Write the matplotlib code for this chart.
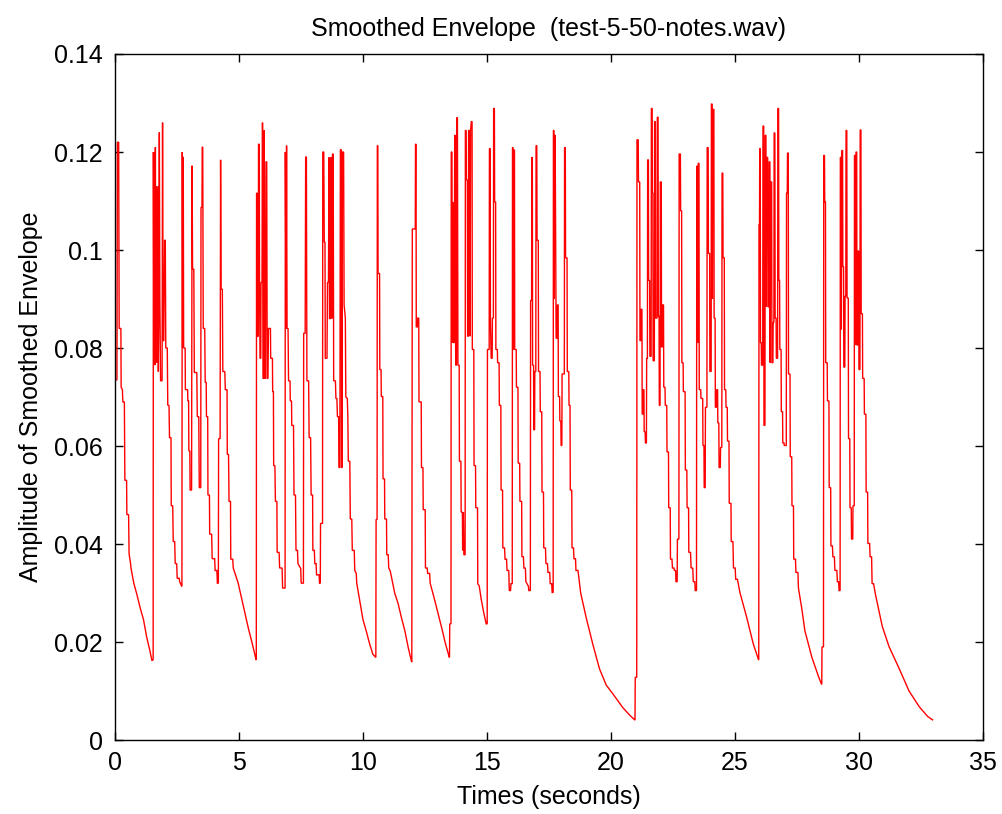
import matplotlib
matplotlib.use("Agg")
import matplotlib.pyplot as plt

# ---- data: (time in s, amplitude) vertices per note group ----
group_01 = [(0.0, 0.0), (0.02, 0.0735), (0.09, 0.0735), (0.11, 0.122), (0.16, 0.122), (0.18, 0.084),
            (0.25, 0.084), (0.26, 0.072), (0.31, 0.0715), (0.33, 0.069), (0.39, 0.069), (0.41, 0.053),
            (0.48, 0.053), (0.49, 0.046), (0.56, 0.046), (0.58, 0.038), (0.64, 0.036), (0.66, 0.035),
            (0.77, 0.032), (0.90, 0.0296), (1.03, 0.0269), (1.16, 0.0246), (1.29, 0.021), (1.42, 0.0182),
            (1.50, 0.0162)]
group_02 = [(1.55, 0.0164), (1.56, 0.120), (1.58, 0.077), (1.60, 0.120), (1.62, 0.0765), (1.64, 0.121),
            (1.66, 0.077), (1.68, 0.113), (1.70, 0.077), (1.74, 0.113), (1.76, 0.0752), (1.78, 0.090),
            (1.80, 0.124), (1.82, 0.0902), (1.85, 0.0733), (1.91, 0.0733), (1.93, 0.126), (1.95, 0.0815),
            (1.98, 0.0815), (2.01, 0.102), (2.04, 0.102), (2.06, 0.080), (2.12, 0.080), (2.14, 0.0683),
            (2.19, 0.0683), (2.21, 0.0617), (2.27, 0.0617), (2.28, 0.0478), (2.34, 0.0478), (2.36, 0.0405),
            (2.42, 0.0405), (2.44, 0.036), (2.50, 0.036), (2.52, 0.033), (2.60, 0.033), (2.62, 0.0323),
            (2.70, 0.0314)]
group_03 = [(2.71, 0.0314), (2.725, 0.120), (2.74, 0.080), (2.765, 0.119), (2.78, 0.080), (2.84, 0.080),
            (2.85, 0.0715), (2.94, 0.0715), (2.95, 0.0692), (2.98, 0.0692), (2.99, 0.059), (3.03, 0.059),
            (3.04, 0.051), (3.10, 0.051), (3.12, 0.1172), (3.14, 0.0961), (3.19, 0.0961), (3.21, 0.075),
            (3.31, 0.075), (3.33, 0.066), (3.39, 0.066), (3.41, 0.0515), (3.47, 0.0515), (3.48, 0.1087),
            (3.52, 0.1087), (3.53, 0.121), (3.55, 0.121), (3.57, 0.084), (3.63, 0.084), (3.65, 0.073),
            (3.69, 0.073), (3.70, 0.066), (3.75, 0.066), (3.76, 0.050), (3.82, 0.050), (3.83, 0.042),
            (3.91, 0.042), (3.93, 0.037), (4.03, 0.037), (4.05, 0.0346), (4.12, 0.0346), (4.14, 0.032),
            (4.18, 0.032)]
group_04 = [(4.19, 0.0615), (4.25, 0.0615), (4.27, 0.1184), (4.29, 0.092), (4.34, 0.092), (4.36, 0.0752),
            (4.44, 0.0752), (4.46, 0.0715), (4.53, 0.0715), (4.54, 0.0583), (4.59, 0.0583), (4.61, 0.0487),
            (4.67, 0.0487), (4.68, 0.0369), (4.76, 0.0369), (4.78, 0.0351), (4.98, 0.032), (5.18, 0.0275),
            (5.38, 0.023), (5.58, 0.019), (5.70, 0.0164)]
group_05 = [(5.71, 0.0164), (5.72, 0.1116), (5.75, 0.1116), (5.76, 0.0824), (5.79, 0.0824), (5.80, 0.1216),
            (5.83, 0.1216), (5.84, 0.0934), (5.86, 0.0779), (5.89, 0.0779), (5.90, 0.0934), (5.94, 0.0934),
            (5.96, 0.126), (5.98, 0.0738), (6.01, 0.0738), (6.03, 0.1244), (6.05, 0.0738), (6.08, 0.0738),
            (6.10, 0.118), (6.13, 0.118), (6.15, 0.0738), (6.18, 0.0738), (6.20, 0.084), (6.28, 0.084),
            (6.29, 0.0779), (6.36, 0.0779), (6.37, 0.0711), (6.40, 0.0711), (6.41, 0.056), (6.46, 0.056),
            (6.48, 0.0487), (6.54, 0.0487), (6.55, 0.0383), (6.63, 0.0383), (6.65, 0.0351), (6.75, 0.0351),
            (6.77, 0.031), (6.87, 0.031)]
group_06 = [(6.88, 0.120), (6.91, 0.084), (6.93, 0.1213), (6.95, 0.084), (6.99, 0.084), (7.01, 0.0733),
            (7.07, 0.0733), (7.08, 0.0692), (7.13, 0.0692), (7.14, 0.0642), (7.21, 0.0642), (7.23, 0.050),
            (7.29, 0.050), (7.31, 0.0387), (7.37, 0.0387), (7.39, 0.036), (7.50, 0.035), (7.52, 0.032),
            (7.61, 0.032)]
group_07 = [(7.62, 0.083), (7.68, 0.083), (7.70, 0.119), (7.73, 0.119), (7.75, 0.0733), (7.82, 0.0733),
            (7.84, 0.0617), (7.90, 0.0617), (7.92, 0.050), (7.98, 0.050), (7.99, 0.0387), (8.05, 0.0387),
            (8.07, 0.036), (8.12, 0.036), (8.14, 0.0337), (8.24, 0.0337), (8.26, 0.032), (8.29, 0.032)]
group_08 = [(8.30, 0.0442), (8.38, 0.0442), (8.39, 0.120), (8.43, 0.120), (8.45, 0.1016), (8.48, 0.1016),
            (8.49, 0.0779), (8.56, 0.0779), (8.58, 0.0934), (8.62, 0.0934), (8.64, 0.1189), (8.66, 0.086),
            (8.70, 0.086), (8.72, 0.1189), (8.74, 0.0861), (8.77, 0.0861), (8.78, 0.1196), (8.81, 0.1196),
            (8.83, 0.0733), (8.90, 0.0733), (8.92, 0.0697), (8.96, 0.0697), (8.98, 0.066), (9.03, 0.066),
            (9.04, 0.0556), (9.08, 0.0556), (9.10, 0.1205), (9.13, 0.1205), (9.15, 0.0556), (9.17, 0.0556),
            (9.18, 0.120), (9.23, 0.120), (9.25, 0.0888), (9.30, 0.0861), (9.32, 0.070), (9.38, 0.0697),
            (9.40, 0.066), (9.42, 0.0569), (9.48, 0.0569), (9.50, 0.0451), (9.56, 0.0451), (9.58, 0.0387),
            (9.66, 0.0387), (9.68, 0.0346), (9.74, 0.034), (9.76, 0.032), (9.87, 0.0287), (10.01, 0.0246),
            (10.14, 0.0223), (10.28, 0.0196), (10.41, 0.0175), (10.52, 0.0169)]
group_09 = [(10.53, 0.0169), (10.54, 0.045), (10.58, 0.045), (10.59, 0.1213), (10.61, 0.1213), (10.62, 0.0952),
            (10.68, 0.0952), (10.69, 0.0756), (10.74, 0.0756), (10.75, 0.0701), (10.81, 0.0701), (10.82, 0.0533),
            (10.88, 0.0533), (10.89, 0.0451), (10.96, 0.0451), (10.97, 0.0378), (11.03, 0.0378), (11.05, 0.0351),
            (11.11, 0.0345), (11.20, 0.0323), (11.29, 0.030), (11.43, 0.0278), (11.56, 0.025), (11.70, 0.0223),
            (11.83, 0.019), (11.97, 0.016)]
group_10 = [(11.98, 0.0159), (12.00, 0.1043), (12.12, 0.1043), (12.13, 0.1216), (12.15, 0.1216), (12.16, 0.0843),
            (12.20, 0.0843), (12.22, 0.0861), (12.26, 0.0861), (12.27, 0.069), (12.36, 0.069), (12.37, 0.0556),
            (12.43, 0.0556), (12.44, 0.047), (12.52, 0.047), (12.53, 0.0351), (12.60, 0.0351), (12.62, 0.034),
            (12.70, 0.034), (12.72, 0.032), (12.88, 0.029), (13.03, 0.026), (13.18, 0.023), (13.33, 0.0198),
            (13.49, 0.0169)]
group_11 = [(13.50, 0.0169), (13.51, 0.0237), (13.56, 0.0237), (13.57, 0.120), (13.60, 0.120), (13.61, 0.0811),
            (13.64, 0.1098), (13.66, 0.0811), (13.69, 0.0811), (13.71, 0.1234), (13.73, 0.1234), (13.75, 0.0765),
            (13.78, 0.0765), (13.79, 0.127), (13.82, 0.127), (13.84, 0.0765), (13.89, 0.0765), (13.90, 0.0569),
            (13.96, 0.0569), (13.97, 0.0465), (14.02, 0.0465), (14.03, 0.0387), (14.06, 0.0465), (14.08, 0.0378),
            (14.13, 0.0378), (14.14, 0.1244), (14.17, 0.1244), (14.18, 0.1143), (14.22, 0.1143), (14.23, 0.0824),
            (14.26, 0.0824), (14.27, 0.1244), (14.31, 0.1244), (14.33, 0.0824), (14.35, 0.1244), (14.38, 0.1262),
            (14.41, 0.1262), (14.42, 0.0797), (14.48, 0.0797), (14.49, 0.056), (14.55, 0.056), (14.56, 0.0474),
            (14.63, 0.0474), (14.64, 0.0319), (14.70, 0.0314), (14.78, 0.0287), (14.88, 0.026), (14.98, 0.0237),
            (15.01, 0.0237)]
group_12 = [(15.02, 0.0237), (15.03, 0.0797), (15.10, 0.0797), (15.11, 0.1207), (15.14, 0.1207), (15.15, 0.0861),
            (15.18, 0.0779), (15.22, 0.0779), (15.23, 0.0861), (15.27, 0.0861), (15.28, 0.1289), (15.31, 0.1289),
            (15.32, 0.1098), (15.36, 0.1098), (15.37, 0.0797), (15.43, 0.0797), (15.44, 0.077), (15.50, 0.077),
            (15.51, 0.0683), (15.57, 0.0683), (15.58, 0.051), (15.64, 0.051), (15.65, 0.0392), (15.72, 0.0392),
            (15.74, 0.0369), (15.80, 0.0369), (15.82, 0.0346), (15.89, 0.0346), (15.91, 0.0305), (15.96, 0.0305),
            (15.98, 0.0319), (16.03, 0.0319), (16.04, 0.1209), (16.06, 0.1209), (16.07, 0.0797), (16.09, 0.1204),
            (16.12, 0.1204), (16.13, 0.0797), (16.19, 0.0797), (16.20, 0.072), (16.26, 0.072), (16.27, 0.0565),
            (16.33, 0.0565), (16.34, 0.0487), (16.41, 0.0487), (16.42, 0.0374), (16.48, 0.0374), (16.50, 0.0351),
            (16.56, 0.0351), (16.58, 0.0323), (16.68, 0.0314), (16.70, 0.0305), (16.76, 0.0305)]
group_13 = [(16.77, 0.0897), (16.81, 0.0897), (16.82, 0.1189), (16.84, 0.1189), (16.85, 0.0765), (16.89, 0.0765),
            (16.90, 0.0633), (16.93, 0.0633), (16.94, 0.0752), (16.98, 0.0752), (16.99, 0.1213), (17.02, 0.1213),
            (17.03, 0.102), (17.08, 0.102), (17.09, 0.0752), (17.15, 0.0752), (17.16, 0.067), (17.22, 0.067),
            (17.23, 0.0506), (17.29, 0.0506), (17.30, 0.0392), (17.37, 0.0392), (17.39, 0.036), (17.45, 0.036),
            (17.47, 0.0342), (17.54, 0.0342), (17.56, 0.0319), (17.62, 0.0319), (17.64, 0.0301), (17.67, 0.0301)]
group_14 = [(17.68, 0.0301), (17.69, 0.1244), (17.71, 0.1244), (17.72, 0.090), (17.74, 0.1234), (17.76, 0.1234),
            (17.80, 0.082),
            (17.84, 0.082), (17.85, 0.0888), (17.88, 0.0888), (17.89, 0.0701), (17.94, 0.0701), (17.95, 0.0651),
            (17.99, 0.0651), (18.00, 0.0601), (18.03, 0.0601), (18.04, 0.0747), (18.13, 0.0747), (18.14, 0.1209),
            (18.17, 0.1209), (18.18, 0.0984), (18.24, 0.0984), (18.25, 0.0752), (18.31, 0.0752), (18.32, 0.0683),
            (18.36, 0.0683), (18.37, 0.051), (18.43, 0.051), (18.44, 0.0392), (18.50, 0.0392), (18.52, 0.037),
            (18.58, 0.037), (18.60, 0.0346), (18.68, 0.0346), (18.79, 0.030), (19.01, 0.025), (19.28, 0.0195),
            (19.55, 0.0145), (19.82, 0.0112), (20.09, 0.0094), (20.49, 0.0066), (20.78, 0.0050), (20.97, 0.0041)]
group_15 = [(20.98, 0.0041), (20.99, 0.0128), (21.05, 0.0128), (21.06, 0.1225), (21.11, 0.1225), (21.12, 0.1139),
            (21.17, 0.1139), (21.18, 0.0815), (21.21, 0.0815), (21.22, 0.0879), (21.26, 0.0879), (21.27, 0.0665),
            (21.30, 0.0665), (21.31, 0.0715), (21.34, 0.0715), (21.35, 0.0629), (21.39, 0.0629), (21.40, 0.0606),
            (21.44, 0.0606), (21.45, 0.0779), (21.48, 0.0779), (21.49, 0.1184), (21.52, 0.1184), (21.53, 0.0938),
            (21.57, 0.0938), (21.58, 0.0783), (21.63, 0.0783), (21.64, 0.1289), (21.67, 0.1289), (21.68, 0.1116),
            (21.70, 0.1116), (21.71, 0.0774), (21.76, 0.0774), (21.77, 0.1262), (21.80, 0.1262), (21.81, 0.0861),
            (21.87, 0.0861), (21.88, 0.1271), (21.91, 0.1271), (21.92, 0.0865), (21.95, 0.0865), (21.96, 0.0683),
            (21.99, 0.0683), (22.00, 0.1139), (22.04, 0.1139), (22.05, 0.0802), (22.08, 0.0802), (22.09, 0.0888),
            (22.13, 0.0888), (22.14, 0.072), (22.19, 0.072), (22.20, 0.0683), (22.26, 0.0683), (22.27, 0.0588),
            (22.33, 0.0588), (22.34, 0.0474), (22.40, 0.0474), (22.41, 0.0369), (22.47, 0.0369), (22.49, 0.0351),
            (22.55, 0.0351), (22.57, 0.0346), (22.62, 0.0346), (22.63, 0.0323), (22.68, 0.0323), (22.69, 0.041),
            (22.74, 0.041)]
group_16 = [(22.75, 0.041), (22.76, 0.1196), (22.81, 0.1196), (22.82, 0.108), (22.86, 0.108), (22.87, 0.077),
            (22.92, 0.077), (22.93, 0.0711), (23.00, 0.0711), (23.01, 0.0551), (23.07, 0.0551), (23.08, 0.0474),
            (23.14, 0.0474), (23.15, 0.0383), (23.22, 0.0383), (23.24, 0.0351), (23.31, 0.0351), (23.33, 0.0323),
            (23.39, 0.0323), (23.41, 0.0305), (23.46, 0.0305), (23.47, 0.1171), (23.50, 0.1171), (23.51, 0.0811),
            (23.53, 0.1177), (23.56, 0.1177), (23.57, 0.0715), (23.63, 0.0715), (23.64, 0.0697), (23.71, 0.0697),
            (23.72, 0.0601), (23.76, 0.0601), (23.77, 0.0515), (23.81, 0.0515), (23.82, 0.0679), (23.88, 0.0679),
            (23.89, 0.1209), (23.93, 0.1209), (23.94, 0.0993), (23.99, 0.0993), (24.00, 0.0752), (24.05, 0.0752),
            (24.06, 0.1298), (24.09, 0.1298), (24.10, 0.090), (24.12, 0.1287), (24.16, 0.1287), (24.17, 0.0861),
            (24.21, 0.0861), (24.22, 0.0679), (24.26, 0.0679), (24.27, 0.0715), (24.31, 0.0715), (24.32, 0.0647),
            (24.36, 0.0647), (24.37, 0.0556), (24.42, 0.0556), (24.43, 0.0597), (24.48, 0.0597), (24.49, 0.1157),
            (24.52, 0.1157), (24.53, 0.0984), (24.58, 0.0984), (24.59, 0.0715), (24.64, 0.0715), (24.65, 0.0679),
            (24.70, 0.0679), (24.71, 0.061), (24.77, 0.061), (24.78, 0.0483), (24.85, 0.0483), (24.86, 0.0405),
            (24.93, 0.0405), (24.95, 0.0351), (25.02, 0.0351), (25.04, 0.0328), (25.11, 0.0328), (25.21, 0.0301),
            (25.48, 0.0251), (25.75, 0.0196), (25.96, 0.0164)]
group_17 = [(25.97, 0.0164), (25.98, 0.1052), (26.00, 0.1052), (26.01, 0.1207), (26.03, 0.1207), (26.04, 0.0811),
            (26.07, 0.0811), (26.08, 0.0765), (26.13, 0.0765), (26.14, 0.1253), (26.17, 0.1253), (26.18, 0.0642),
            (26.22, 0.0642), (26.23, 0.1234), (26.26, 0.1234), (26.27, 0.0884), (26.29, 0.1189), (26.33, 0.1189),
            (26.34, 0.0884), (26.38, 0.0884), (26.39, 0.118), (26.42, 0.118), (26.43, 0.077), (26.45, 0.1139),
            (26.49, 0.1139), (26.50, 0.077), (26.54, 0.077), (26.55, 0.0852), (26.58, 0.0852), (26.59, 0.1239),
            (26.62, 0.1239), (26.63, 0.0861), (26.67, 0.0861), (26.68, 0.0779), (26.73, 0.0779), (26.74, 0.1289),
            (26.77, 0.1289), (26.78, 0.0938), (26.81, 0.0938), (26.82, 0.0797), (26.87, 0.0797), (26.88, 0.067),
            (26.93, 0.067), (26.94, 0.0606), (26.99, 0.0606), (27.00, 0.0601), (27.08, 0.0601), (27.09, 0.1116),
            (27.12, 0.1116), (27.13, 0.1198), (27.16, 0.1198), (27.17, 0.0747), (27.23, 0.0747), (27.24, 0.0578),
            (27.30, 0.0578), (27.31, 0.0478), (27.37, 0.0478), (27.38, 0.0369), (27.45, 0.0369), (27.47, 0.0342),
            (27.55, 0.0342), (27.57, 0.031), (27.70, 0.027), (27.83, 0.0223), (27.97, 0.0196), (28.11, 0.0169),
            (28.24, 0.015), (28.39, 0.0128), (28.50, 0.0114)]
group_18 = [(28.51, 0.0114), (28.52, 0.019), (28.58, 0.019), (28.59, 0.1193), (28.62, 0.1193), (28.63, 0.1098),
            (28.66, 0.1098), (28.67, 0.077), (28.73, 0.077), (28.74, 0.0692), (28.80, 0.0692), (28.81, 0.0515),
            (28.87, 0.0515), (28.88, 0.0396), (28.94, 0.0396), (28.96, 0.0374), (29.02, 0.0374), (29.04, 0.0346),
            (29.12, 0.0346), (29.14, 0.0323), (29.19, 0.0323), (29.21, 0.0305), (29.25, 0.0305), (29.26, 0.1189),
            (29.29, 0.1189), (29.30, 0.0838), (29.32, 0.1203), (29.35, 0.1203), (29.36, 0.0966), (29.39, 0.0966),
            (29.40, 0.0761), (29.44, 0.0761), (29.45, 0.0906), (29.48, 0.0906), (29.49, 0.1244), (29.52, 0.1244),
            (29.53, 0.0902), (29.58, 0.0902), (29.59, 0.0615), (29.64, 0.0615), (29.65, 0.0474), (29.70, 0.0474),
            (29.71, 0.041), (29.76, 0.041), (29.77, 0.0478), (29.82, 0.0478), (29.83, 0.1193), (29.86, 0.1193),
            (29.87, 0.0806), (29.89, 0.120), (29.92, 0.120), (29.93, 0.0806), (29.96, 0.0806), (29.97, 0.0998),
            (30.00, 0.0998), (30.01, 0.0756), (30.05, 0.0756), (30.06, 0.1245), (30.09, 0.1245), (30.10, 0.087),
            (30.15, 0.087), (30.16, 0.0738), (30.22, 0.0738), (30.23, 0.0665), (30.29, 0.0665), (30.30, 0.0506),
            (30.36, 0.0506), (30.37, 0.0401), (30.44, 0.0401), (30.46, 0.0374), (30.52, 0.0374), (30.54, 0.0319),
            (30.60, 0.0319), (30.68, 0.0296), (30.95, 0.0232), (31.22, 0.0191), (31.63, 0.0146), (32.03, 0.0100),
            (32.44, 0.0068), (32.78, 0.0048), (32.98, 0.0041)]

note_groups = [group_01, group_02, group_03, group_04, group_05, group_06, group_07, group_08, group_09,
               group_10, group_11, group_12, group_13, group_14, group_15, group_16, group_17, group_18]

x_ticks = [0, 5, 10, 15, 20, 25, 30, 35]
y_ticks = [0, 0.02, 0.04, 0.06, 0.08, 0.1, 0.12, 0.14]
y_tick_labels = ["0", "0.02", "0.04", "0.06", "0.08", "0.1", "0.12", "0.14"]

title_text = "Smoothed Envelope  (test-5-50-notes.wav)"
x_label = "Times (seconds)"
y_label = "Amplitude of Smoothed Envelope"

# ---- build series ----
times = [p[0] for g in note_groups for p in g]
amps = [p[1] for g in note_groups for p in g]

plt.rcParams['font.family'] = ['Liberation Sans', 'DejaVu Sans']
FS = 18

fig = plt.figure(figsize=(10.02, 8.14), dpi=100, facecolor='white')
ax = fig.add_axes([114.7 / 1002, 74 / 814, (982.7 - 114.7) / 1002, (740 - 54) / 814])

ax.plot(times, amps, color='#ff0000', linewidth=1.0, solid_joinstyle='miter')

ax.set_xlim(0, 35)
ax.set_ylim(0, 0.14)
ax.set_xticks(x_ticks)
ax.set_xticklabels([str(t) for t in x_ticks])
ax.set_yticks(y_ticks)
ax.set_yticklabels(y_tick_labels)

ax.tick_params(direction='in', top=True, right=True, length=6, width=1.0, colors='black',
               labelsize=FS)
ax.tick_params(axis='y', pad=8.6)
ax.tick_params(axis='x', pad=8)
for s in ax.spines.values():
    s.set_linewidth(1.0)
    s.set_color('black')

ax.set_title(title_text, fontsize=FS, pad=13)
ax.set_xlabel(x_label, fontsize=FS, labelpad=7)
ax.set_ylabel(y_label, fontsize=FS, labelpad=8)

fig.savefig("out.png", dpi=100, facecolor='white')
